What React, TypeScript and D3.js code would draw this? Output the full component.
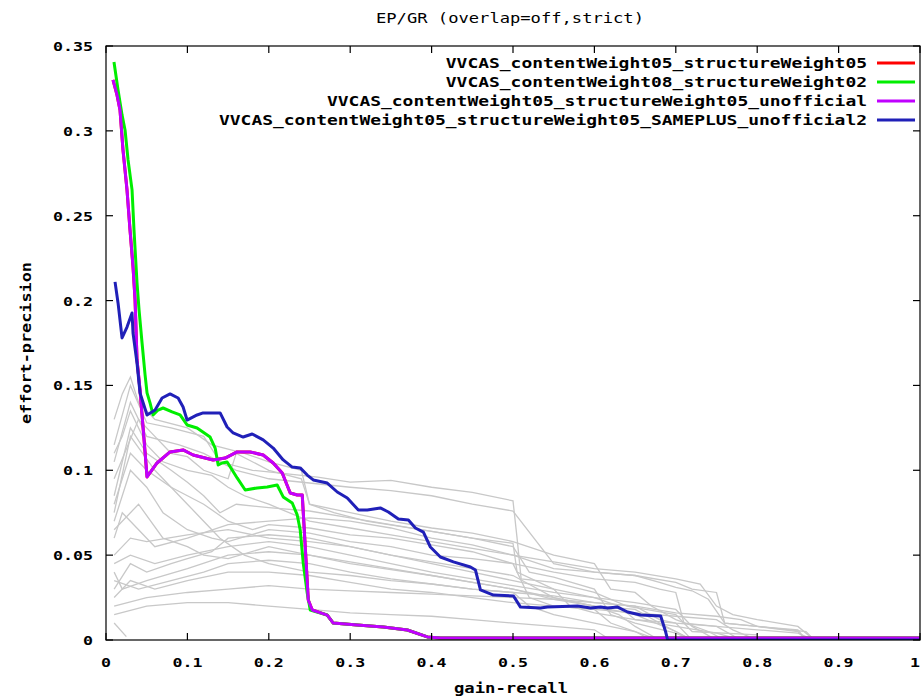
import { useRef, useEffect } from 'react'
import * as d3 from 'd3'

type Pt = [number, number]

// tick values and labels
const xTicks = [0, 0.1, 0.2, 0.3, 0.4, 0.5, 0.6, 0.7, 0.8, 0.9, 1]
const xTickLabels = ['0', '0.1', '0.2', '0.3', '0.4', '0.5', '0.6', '0.7', '0.8', '0.9', '1']
const yTicks = [0, 0.05, 0.1, 0.15, 0.2, 0.25, 0.3, 0.35]
const yTickLabels = ['0', '0.05', '0.1', '0.15', '0.2', '0.25', '0.3', '0.35']

const seriesNames = [
  'VVCAS_contentWeight05_structureWeight05',
  'VVCAS_contentWeight08_structureWeight02',
  'VVCAS_contentWeight05_structureWeight05_unofficial',
  'VVCAS_contentWeight05_structureWeight05_SAMEPLUS_unofficial2',
]
const seriesColors = ['#ff0000', '#00ee00', '#c000ff', '#2020b8']

// purple run (red run is identical and sits beneath it)
const unofficial: Pt[] = [
  [0.0086, 0.33], [0.0135, 0.3212], [0.0172, 0.3123], [0.0209, 0.2887], [0.0258, 0.2652],
  [0.0295, 0.2416], [0.0332, 0.2198], [0.0357, 0.2004], [0.0381, 0.165], [0.0418, 0.1473],
  [0.0455, 0.1255], [0.0504, 0.0961], [0.0627, 0.1043], [0.0787, 0.1108], [0.0947, 0.112],
  [0.107, 0.109], [0.1316, 0.1061], [0.1464, 0.1072], [0.1611, 0.1108], [0.1771, 0.1108],
  [0.1931, 0.109], [0.2054, 0.1043], [0.2165, 0.0984], [0.2263, 0.0866], [0.2349, 0.0854],
  [0.2411, 0.0854], [0.2448, 0.0548], [0.2485, 0.0236], [0.2534, 0.0177], [0.2718, 0.0147],
  [0.2792, 0.01], [0.3087, 0.0088], [0.3407, 0.0077], [0.3702, 0.0059], [0.3948, 0.0018],
  [0.4108, 0.0012], [1, 0.0012],
]
const official = unofficial

const cw08: Pt[] = [
  [0.0098, 0.3406], [0.0148, 0.3241], [0.0197, 0.3094], [0.0234, 0.3005], [0.0271, 0.2829],
  [0.032, 0.2652], [0.0344, 0.2416], [0.0381, 0.2104], [0.0406, 0.1945], [0.0443, 0.175],
  [0.048, 0.1562], [0.0504, 0.1456], [0.0541, 0.1397], [0.0578, 0.1326], [0.064, 0.1355],
  [0.0701, 0.1367], [0.0812, 0.1344], [0.091, 0.1326], [0.0996, 0.1267], [0.1119, 0.1249],
  [0.1279, 0.1196], [0.1341, 0.1131], [0.1378, 0.1031], [0.1427, 0.1043], [0.1488, 0.1049],
  [0.155, 0.1002], [0.1611, 0.0955], [0.171, 0.0884], [0.1857, 0.0896], [0.198, 0.0902],
  [0.2103, 0.0913], [0.2177, 0.0843], [0.2288, 0.0807], [0.2349, 0.0737], [0.2386, 0.0648],
  [0.2423, 0.0454], [0.2472, 0.0277], [0.2509, 0.0177], [0.2718, 0.0147], [0.2792, 0.01],
  [0.3087, 0.0088], [0.3407, 0.0077], [0.3702, 0.0059], [0.3948, 0.0018], [0.4108, 0.0012],
  [1, 0.0012],
]

const sameplus: Pt[] = [
  [0.0111, 0.211], [0.0148, 0.1986], [0.0197, 0.178], [0.0258, 0.1844], [0.032, 0.1927],
  [0.0332, 0.1809], [0.0381, 0.1632], [0.0418, 0.1456], [0.0504, 0.1326], [0.0603, 0.1355],
  [0.0689, 0.1426], [0.0787, 0.145], [0.0886, 0.1426], [0.0947, 0.1373], [0.0996, 0.1296],
  [0.1119, 0.1326], [0.1193, 0.1338], [0.1402, 0.1338], [0.1488, 0.1255], [0.1562, 0.122],
  [0.1685, 0.1196], [0.1796, 0.1214], [0.1931, 0.1179], [0.2054, 0.1131], [0.2177, 0.1061],
  [0.2288, 0.1019], [0.2386, 0.1014], [0.2472, 0.0972], [0.2546, 0.0943], [0.2718, 0.0925],
  [0.2841, 0.0872], [0.2964, 0.0837], [0.31, 0.0766], [0.321, 0.0766], [0.337, 0.0778],
  [0.3469, 0.0754], [0.3592, 0.0713], [0.3715, 0.0707], [0.3801, 0.066], [0.3899, 0.0636],
  [0.3985, 0.0548], [0.4108, 0.0489], [0.4268, 0.046], [0.4477, 0.043], [0.4539, 0.0412],
  [0.46, 0.0295], [0.476, 0.0265], [0.5006, 0.0259], [0.5092, 0.0194], [0.5338, 0.0189],
  [0.5424, 0.0194], [0.5793, 0.02], [0.5953, 0.0189], [0.6076, 0.0194], [0.6162, 0.0189],
  [0.6285, 0.0194], [0.6408, 0.0165], [0.6568, 0.0147], [0.6814, 0.0141], [0.6876, 0.0047],
  [0.69, 0], [1, 0],
]

// other submitted runs, drawn in grey
const otherRuns: Pt[][] = [
  [[0.01, 0.13], [0.02, 0.145], [0.03, 0.155], [0.04, 0.14], [0.06, 0.13], [0.1, 0.125], [0.13, 0.115], [0.17, 0.11], [0.2, 0.105], [0.24, 0.1], [0.25, 0.08], [0.28, 0.075], [0.32, 0.07], [0.4, 0.064], [0.45, 0.06], [0.5, 0.055], [0.52, 0.04], [0.55, 0.037], [0.6, 0.03], [0.62, 0.015], [0.65, 0.01], [0.7, 0.004], [0.72, 0]],
  [[0.01, 0.115], [0.03, 0.15], [0.05, 0.128], [0.08, 0.125], [0.12, 0.12], [0.14, 0.105], [0.18, 0.1], [0.22, 0.098], [0.26, 0.096], [0.3, 0.093], [0.35, 0.094], [0.4, 0.09], [0.45, 0.087], [0.5, 0.082], [0.505, 0.06], [0.51, 0.036], [0.55, 0.034], [0.6, 0.028], [0.64, 0.02], [0.7, 0.015], [0.72, 0.005], [0.8, 0.003]],
  [[0.01, 0.105], [0.03, 0.14], [0.05, 0.12], [0.09, 0.115], [0.12, 0.11], [0.16, 0.1], [0.2, 0.095], [0.3, 0.09], [0.35, 0.088], [0.4, 0.085], [0.45, 0.08], [0.5, 0.076], [0.55, 0.045], [0.6, 0.04], [0.65, 0.038], [0.68, 0.034], [0.7, 0.031], [0.72, 0.029], [0.74, 0.024], [0.76, 0.01], [0.8, 0.008], [0.86, 0.005], [0.87, 0]],
  [[0.01, 0.095], [0.04, 0.13], [0.06, 0.12], [0.08, 0.11], [0.1, 0.108], [0.12, 0.1], [0.15, 0.095], [0.16, 0.11], [0.2, 0.1], [0.24, 0.095], [0.25, 0.08], [0.3, 0.075], [0.35, 0.07], [0.4, 0.066], [0.45, 0.063], [0.5, 0.058], [0.55, 0.05], [0.6, 0.045], [0.62, 0.03], [0.65, 0.028], [0.67, 0.02], [0.7, 0.012], [0.74, 0.005], [0.76, 0]],
  [[0.01, 0.085], [0.03, 0.125], [0.05, 0.11], [0.08, 0.1], [0.1, 0.093], [0.12, 0.085], [0.14, 0.075], [0.16, 0.08], [0.2, 0.078], [0.25, 0.076], [0.3, 0.072], [0.35, 0.068], [0.4, 0.064], [0.45, 0.06], [0.5, 0.057], [0.505, 0.04], [0.55, 0.03], [0.6, 0.025], [0.63, 0.02], [0.65, 0.012], [0.7, 0.01], [0.72, 0]],
  [[0.01, 0.075], [0.03, 0.12], [0.06, 0.1], [0.08, 0.09], [0.1, 0.08], [0.12, 0.07], [0.14, 0.06], [0.17, 0.05], [0.2, 0.045], [0.25, 0.04], [0.3, 0.038], [0.35, 0.035], [0.4, 0.033], [0.45, 0.03], [0.5, 0.028], [0.52, 0.02], [0.55, 0.015], [0.6, 0.01], [0.65, 0.005], [0.67, 0]],
  [[0.01, 0.07], [0.03, 0.1], [0.05, 0.09], [0.07, 0.075], [0.1, 0.065], [0.13, 0.06], [0.15, 0.058], [0.2, 0.065], [0.25, 0.063], [0.3, 0.058], [0.35, 0.055], [0.4, 0.05], [0.45, 0.048], [0.5, 0.045], [0.55, 0.04], [0.6, 0.036], [0.65, 0.034], [0.68, 0.03], [0.7, 0.028], [0.71, 0.01], [0.75, 0.008], [0.8, 0.006], [0.85, 0.004], [0.87, 0]],
  [[0.01, 0.06], [0.02, 0.075], [0.04, 0.065], [0.06, 0.055], [0.1, 0.06], [0.15, 0.068], [0.2, 0.07], [0.25, 0.072], [0.3, 0.07], [0.35, 0.066], [0.4, 0.06], [0.45, 0.056], [0.5, 0.05], [0.55, 0.042], [0.6, 0.04], [0.65, 0.038], [0.7, 0.034], [0.72, 0.03], [0.75, 0.028], [0.76, 0.01], [0.8, 0.008], [0.85, 0.006], [0.86, 0]],
  [[0.01, 0.05], [0.03, 0.06], [0.05, 0.058], [0.1, 0.062], [0.15, 0.065], [0.2, 0.06], [0.25, 0.058], [0.3, 0.055], [0.35, 0.05], [0.4, 0.046], [0.45, 0.042], [0.5, 0.038], [0.55, 0.025], [0.6, 0.02], [0.65, 0.018], [0.68, 0.01], [0.7, 0.005], [0.72, 0]],
  [[0.01, 0.045], [0.03, 0.05], [0.06, 0.045], [0.1, 0.05], [0.15, 0.055], [0.2, 0.058], [0.25, 0.055], [0.3, 0.05], [0.35, 0.045], [0.4, 0.04], [0.45, 0.036], [0.5, 0.032], [0.55, 0.028], [0.6, 0.025], [0.65, 0.022], [0.7, 0.018], [0.72, 0.008], [0.75, 0]],
  [[0.01, 0.04], [0.02, 0.03], [0.05, 0.035], [0.1, 0.042], [0.15, 0.05], [0.2, 0.052], [0.25, 0.05], [0.3, 0.046], [0.35, 0.042], [0.4, 0.038], [0.45, 0.034], [0.5, 0.03], [0.55, 0.024], [0.6, 0.02], [0.63, 0.015], [0.65, 0.008], [0.68, 0]],
  [[0.01, 0.035], [0.04, 0.03], [0.08, 0.035], [0.12, 0.04], [0.15, 0.045], [0.2, 0.047], [0.25, 0.045], [0.3, 0.04], [0.35, 0.036], [0.4, 0.033], [0.45, 0.03], [0.5, 0.028], [0.55, 0.026], [0.6, 0.022], [0.65, 0.02], [0.7, 0.016], [0.75, 0.014], [0.78, 0.012], [0.8, 0.008], [0.85, 0.005], [0.86, 0]],
  [[0.01, 0.025], [0.03, 0.035], [0.06, 0.03], [0.1, 0.035], [0.15, 0.04], [0.2, 0.04], [0.25, 0.038], [0.3, 0.034], [0.35, 0.03], [0.4, 0.028], [0.45, 0.025], [0.5, 0.022], [0.55, 0.02], [0.6, 0.018], [0.65, 0.016], [0.7, 0.014], [0.75, 0.012], [0.77, 0.006], [0.8, 0]],
  [[0.01, 0.02], [0.05, 0.025], [0.1, 0.028], [0.15, 0.03], [0.2, 0.032], [0.25, 0.03], [0.3, 0.029], [0.35, 0.028], [0.4, 0.027], [0.45, 0.026], [0.5, 0.025], [0.55, 0.024], [0.6, 0.022], [0.65, 0.02], [0.68, 0.012], [0.7, 0.01], [0.75, 0.008], [0.78, 0]],
  [[0.01, 0.015], [0.05, 0.02], [0.1, 0.022], [0.15, 0.022], [0.2, 0.02], [0.25, 0.018], [0.3, 0.016], [0.35, 0.015], [0.4, 0.014], [0.45, 0.012], [0.5, 0.01], [0.55, 0.008], [0.6, 0.006], [0.62, 0]],
  [[0.01, 0.01], [0.025, 0.002]],
  [[0.01, 0.11], [0.02, 0.12], [0.03, 0.135], [0.05, 0.115], [0.07, 0.105], [0.1, 0.1], [0.13, 0.097], [0.15, 0.09], [0.17, 0.085], [0.2, 0.08], [0.25, 0.07], [0.3, 0.066], [0.35, 0.062], [0.4, 0.058], [0.45, 0.054], [0.5, 0.05], [0.55, 0.046], [0.6, 0.042], [0.65, 0.04], [0.7, 0.036], [0.73, 0.033], [0.75, 0.02], [0.77, 0.015], [0.8, 0.012], [0.85, 0.008], [0.87, 0]],
  [[0.01, 0.065], [0.04, 0.08], [0.07, 0.06], [0.1, 0.055], [0.12, 0.05], [0.15, 0.048], [0.2, 0.055], [0.25, 0.05], [0.3, 0.045], [0.4, 0.038], [0.5, 0.03], [0.6, 0.02], [0.65, 0.015], [0.7, 0.005], [0.72, 0]],
  [[0.01, 0.03], [0.03, 0.045], [0.05, 0.04], [0.08, 0.045], [0.1, 0.048], [0.13, 0.052], [0.15, 0.06], [0.2, 0.062], [0.25, 0.06], [0.3, 0.055], [0.35, 0.05], [0.4, 0.045], [0.45, 0.04], [0.5, 0.035], [0.55, 0.03], [0.57, 0.02], [0.6, 0.016], [0.65, 0.012], [0.7, 0.008], [0.75, 0.004], [0.78, 0]],
  [[0.01, 0.08], [0.03, 0.11], [0.05, 0.1], [0.08, 0.09], [0.1, 0.085], [0.12, 0.08], [0.15, 0.07], [0.18, 0.065], [0.2, 0.068], [0.25, 0.066], [0.3, 0.062], [0.35, 0.06], [0.4, 0.056], [0.45, 0.052], [0.5, 0.045], [0.52, 0.025], [0.55, 0.02], [0.6, 0.018], [0.62, 0.01], [0.65, 0.005], [0.68, 0]],
]

const W = 921
const H = 698
const margin = { left: 106, right: 1, top: 46, bottom: 58 }
const FONT = "'DejaVu Sans Mono', monospace"

export default function App() {
  const svgRef = useRef<SVGSVGElement>(null)

  useEffect(() => {
    if (!svgRef.current) return
    const svg = d3.select(svgRef.current)
    svg.selectAll('*').remove()

    const bw = W - margin.left - margin.right
    const bh = H - margin.top - margin.bottom

    const x = d3.scaleLinear().domain([0, 1]).range([margin.left, margin.left + bw])
    const y = d3.scaleLinear().domain([0, 0.35]).range([margin.top + bh, margin.top])

    svg.append('rect').attr('width', W).attr('height', H).attr('fill', '#fff')

    // title
    svg.append('text')
      .attr('x', 510).attr('y', 23)
      .attr('text-anchor', 'middle')
      .attr('font-family', FONT).attr('font-size', 14)
      .attr('textLength', 268).attr('lengthAdjust', 'spacingAndGlyphs')
      .text('EP/GR (overlap=off,strict)')

    const line = d3.line<Pt>().x((d) => x(d[0])).y((d) => y(d[1]))

    const clipId = 'plot-clip'
    svg.append('defs').append('clipPath').attr('id', clipId)
      .append('rect')
      .attr('x', margin.left).attr('y', margin.top - 3)
      .attr('width', bw).attr('height', bh + 3)

    const plot = svg.append('g').attr('clip-path', `url(#${clipId})`)

    // grey runs
    otherRuns.forEach((run) => {
      plot.append('path').datum(run)
        .attr('fill', 'none').attr('stroke', '#c8c8c8').attr('stroke-width', 1.3)
        .attr('d', line)
    })

    // highlighted runs
    const runs = [official, cw08, unofficial, sameplus]
    runs.forEach((run, i) => {
      plot.append('path').datum(run)
        .attr('fill', 'none').attr('stroke', seriesColors[i]).attr('stroke-width', 3)
        .attr('stroke-linejoin', 'round')
        .attr('d', line)
    })

    // frame
    const axis = svg.append('g').attr('stroke', '#000').attr('stroke-width', 1.2)
    axis.append('rect')
      .attr('x', margin.left).attr('y', margin.top)
      .attr('width', bw).attr('height', bh)
      .attr('fill', 'none')

    const tl = 7
    xTicks.forEach((t) => {
      axis.append('line').attr('x1', x(t)).attr('x2', x(t)).attr('y1', y(0)).attr('y2', y(0) - tl)
      axis.append('line').attr('x1', x(t)).attr('x2', x(t)).attr('y1', y(0.35)).attr('y2', y(0.35) + tl)
    })
    yTicks.forEach((t) => {
      axis.append('line').attr('x1', x(0)).attr('x2', x(0) + tl).attr('y1', y(t)).attr('y2', y(t))
      axis.append('line').attr('x1', x(1)).attr('x2', x(1) - tl).attr('y1', y(t)).attr('y2', y(t))
    })

    const charW = 10
    xTicks.forEach((t, i) => {
      const s = xTickLabels[i]
      const last = i === xTicks.length - 1
      svg.append('text')
        .attr('x', last ? W - 1 : x(t)).attr('y', y(0) + 27)
        .attr('text-anchor', last ? 'end' : 'middle')
        .attr('font-family', FONT).attr('font-size', 13).attr('font-weight', 'bold')
        .attr('textLength', s.length * charW).attr('lengthAdjust', 'spacingAndGlyphs')
        .text(s)
    })
    yTicks.forEach((t, i) => {
      const s = yTickLabels[i]
      svg.append('text')
        .attr('x', 93).attr('y', y(t) + 5)
        .attr('text-anchor', 'end')
        .attr('font-family', FONT).attr('font-size', 13).attr('font-weight', 'bold')
        .attr('textLength', s.length * charW).attr('lengthAdjust', 'spacingAndGlyphs')
        .text(s)
    })

    // axis titles
    svg.append('text')
      .attr('x', 511).attr('y', 693)
      .attr('text-anchor', 'middle')
      .attr('font-family', FONT).attr('font-size', 14).attr('font-weight', 'bold')
      .attr('textLength', 114).attr('lengthAdjust', 'spacingAndGlyphs')
      .text('gain-recall')
    svg.append('text')
      .attr('transform', `translate(31,${y(0.175)}) rotate(-90)`)
      .attr('text-anchor', 'middle')
      .attr('font-family', FONT).attr('font-size', 14).attr('font-weight', 'bold')
      .attr('textLength', 162).attr('lengthAdjust', 'spacingAndGlyphs')
      .text('effort-precision')

    // legend
    const legendY = [63, 82, 101, 120]
    seriesNames.forEach((name, i) => {
      svg.append('text')
        .attr('x', 867).attr('y', legendY[i] + 5)
        .attr('text-anchor', 'end')
        .attr('font-family', FONT).attr('font-size', 14).attr('font-weight', 'bold')
        .attr('textLength', name.length * 10.8).attr('lengthAdjust', 'spacingAndGlyphs')
        .text(name)
      svg.append('line')
        .attr('x1', 877).attr('x2', 915)
        .attr('y1', legendY[i]).attr('y2', legendY[i])
        .attr('stroke', seriesColors[i]).attr('stroke-width', 3)
    })
  }, [])

  return (
    <svg
      ref={svgRef}
      width={W}
      height={H}
      style={{ position: 'absolute', left: 0, top: 0, display: 'block' }}
    />
  )
}
